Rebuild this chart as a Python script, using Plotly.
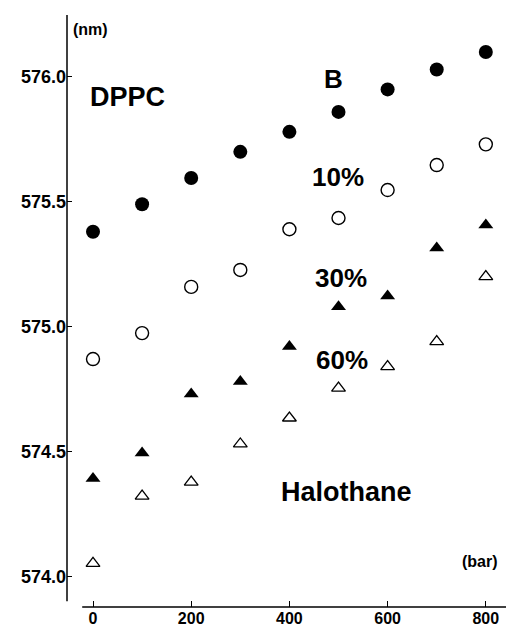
import plotly.graph_objects as go

pressure = [0, 100, 200, 300, 400, 500, 600, 700, 800]
dppc = [575.38, 575.49, 575.595, 575.70, 575.78, 575.86, 575.95, 576.03, 576.10]
hal10 = [574.87, 574.974, 575.159, 575.227, 575.39, 575.435, 575.547, 575.647, 575.73]
hal30 = [574.392, 574.494, 574.73, 574.78, 574.92, 575.08, 575.123, 575.315, 575.407]
hal60 = [574.052, 574.321, 574.377, 574.53, 574.634, 574.754, 574.84, 574.94, 575.20]

ytick_vals = [574.0, 574.5, 575.0, 575.5, 576.0]
xtick_vals = [0, 200, 400, 600, 800]

FONT = "Liberation Sans"

fig = go.Figure()
series = [
    (dppc, "circle", 14, "black", 0),
    (hal10, "circle-open", 13, "black", 1.4),
    (hal30, "triangle-up", 13, "black", 0),
    (hal60, "triangle-up-open", 12, "black", 1.3),
]
for ys, sym, size, col, lw in series:
    fig.add_trace(go.Scatter(
        x=pressure, y=ys, mode="markers",
        marker=dict(symbol=sym, size=size, color=col, line=dict(width=lw, color=col)),
        showlegend=False, hoverinfo="skip"))

ymin, ymax = 573.877, 576.248
xmin, xmax = -52.95, 841.1

fig.update_layout(
    width=506, height=630,
    margin=dict(l=67, r=0, t=15, b=23),
    paper_bgcolor="white", plot_bgcolor="white",
    font=dict(family=FONT, color="black"),
    xaxis=dict(range=[xmin, xmax], showgrid=False, zeroline=False, showline=False,
               tickvals=xtick_vals, ticks="inside", ticklen=6, tickcolor="black",
               ticklabelstandoff=0, automargin=False,
               tickfont=dict(size=16, family=FONT, weight="bold")),
    yaxis=dict(range=[ymin, ymax], showgrid=False, zeroline=False, showline=False,
               tickvals=ytick_vals, tickformat=".1f", ticks="inside", ticklen=5,
               automargin=False,
               tickcolor="black", tickfont=dict(size=18, family=FONT, weight="bold")),
)

# axis lines
fig.add_shape(type="line", xref="paper", yref="y", x0=0, x1=0, y0=573.90, y1=ymax,
              line=dict(color="black", width=1.5))
fig.add_shape(type="line", xref="x", yref="paper", x0=-22, x1=xmax, y0=0, y1=0,
              line=dict(color="black", width=1.5))

def ann(text, x, y, size, xref="x", yref="y"):
    fig.add_annotation(text=text, x=x, y=y, xref=xref, yref=yref, showarrow=False,
                       font=dict(size=size, family=FONT, color="black", weight="bold"),
                       xanchor="center", yanchor="middle")

ann("DPPC", 71, 575.92, 27)
ann("B", 489, 575.99, 26)
ann("10%", 499, 575.60, 26)
ann("30%", 505, 575.195, 26)
ann("60%", 507, 574.866, 26)
ann("Halothane", 517, 574.337, 27)
ann("(bar)", 789, 574.06, 16)
ann("(nm)", -6, 576.19, 16)

fig.write_html("out.html")
